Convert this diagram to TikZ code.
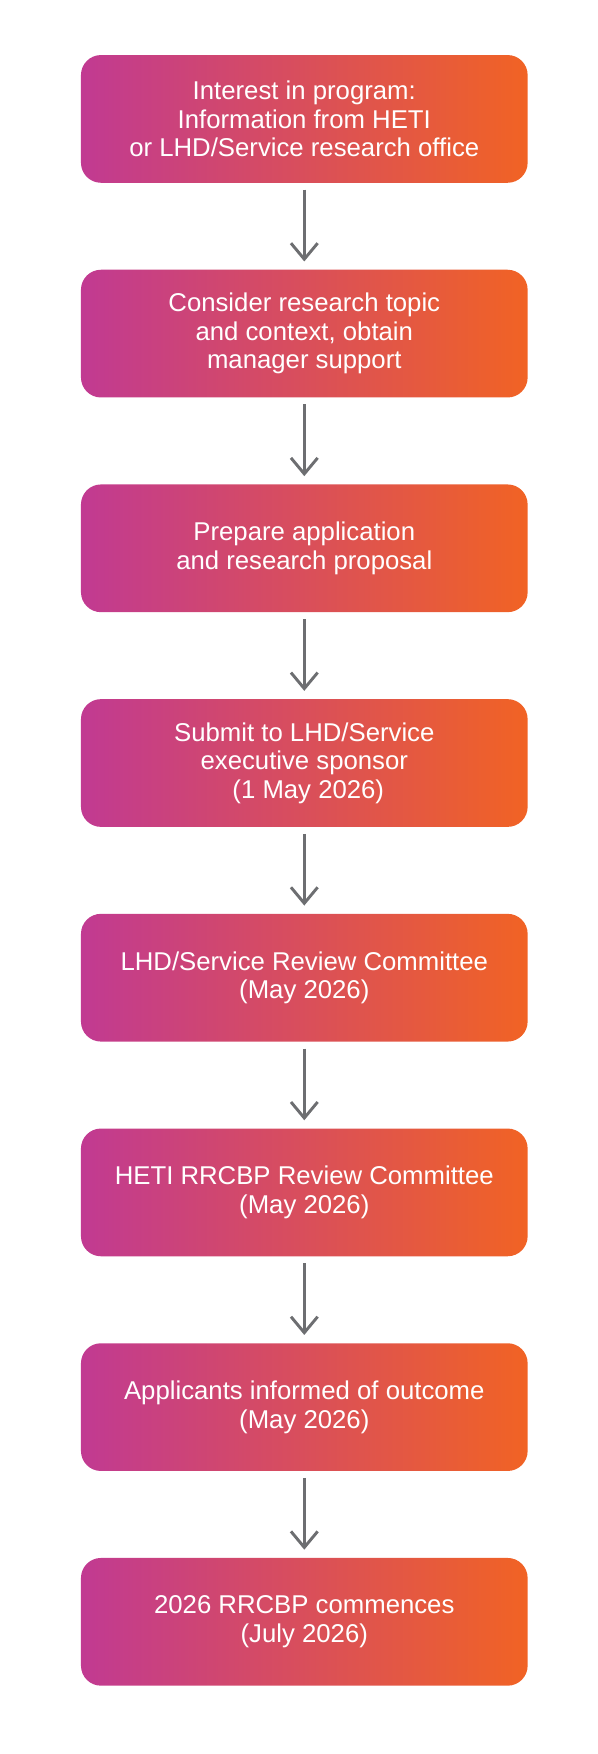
\documentclass[tikz,border=0pt]{standalone}
\usepackage{fontspec}
\setmainfont{Liberation Sans}
\definecolor{hetimagenta}{RGB}{193,58,146}
\definecolor{hetiorange}{RGB}{241,99,36}
\definecolor{hetigrey}{RGB}{109,110,113}
\usetikzlibrary{arrows.meta,positioning}

\begin{document}
\begin{tikzpicture}[x=0.75pt, y=-0.75pt,
  stepbox/.style={left color=hetimagenta, right color=hetiorange, rounded corners=15pt, minimum width=335pt, minimum height=95.8pt, align=center, text=white, font=\fontsize{19.3}{21.5}\selectfont},
  flow/.style={draw=hetigrey, line width=2.2pt, -{Straight Barb[length=12pt, width=20pt, line width=2.2pt]}, shorten <=5pt, shorten >=6pt}]
  \useasboundingbox (0,0) rectangle (598,1754);

  \node[stepbox] (s1) at (304.3,118.9) {Interest in program:\\Information from HETI\\or LHD/Service research office};
  \node[stepbox] (s2) at (304.3,333.6) {Consider research topic\\and context, obtain\\manager support};
  \node[stepbox] (s3) at (304.3,548.3) {Prepare application\\and research proposal};
  \node[stepbox] (s4) at (304.3,763.0) {Submit to LHD/Service\\executive sponsor\\\hspace{6pt}(1 May 2026)};
  \node[stepbox] (s5) at (304.3,977.7) {LHD/Service Review Committee\\(May 2026)};
  \node[stepbox] (s6) at (304.3,1192.4) {HETI RRCBP Review Committee\\(May 2026)};
  \node[stepbox] (s7) at (304.3,1407.1) {Applicants informed of outcome\\(May 2026)};
  \node[stepbox] (s8) at (304.3,1621.8) {2026 RRCBP commences\\(July 2026)};

  \draw[flow] (s1) -- (s2);
  \draw[flow] (s2) -- (s3);
  \draw[flow] (s3) -- (s4);
  \draw[flow] (s4) -- (s5);
  \draw[flow] (s5) -- (s6);
  \draw[flow] (s6) -- (s7);
  \draw[flow] (s7) -- (s8);
\end{tikzpicture}
\end{document}
